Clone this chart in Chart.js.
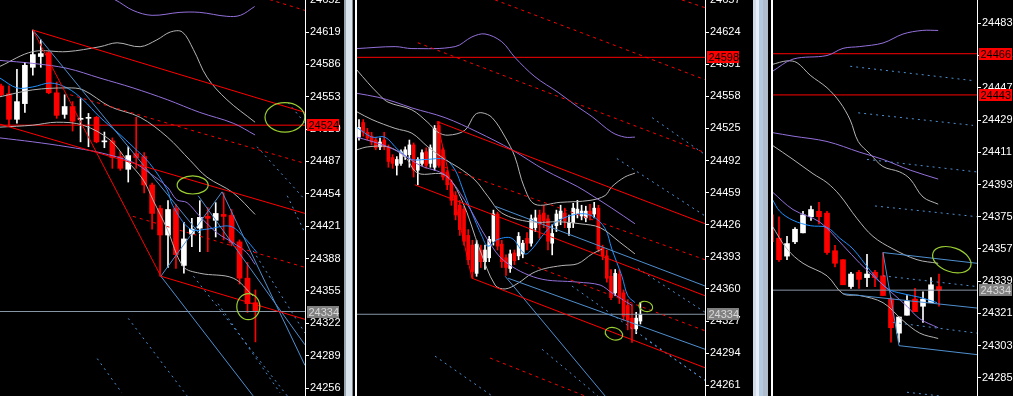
<!DOCTYPE html>
<html><head><meta charset="utf-8">
<script src="https://cdn.jsdelivr.net/npm/chart.js@4.4.1/dist/chart.umd.min.js"></script>
<style>
html,body{margin:0;padding:0;background:#000;}
body{width:1013px;height:396px;position:relative;overflow:hidden;}
.c{position:absolute;top:0;height:396px;}
.s{position:absolute;top:0;height:396px;}
</style></head><body>
<div class="c" style="left:0;width:345px"><canvas id="c1" width="345" height="396"></canvas></div>
<div class="s" style="left:344px;width:2px;background:#9aa4ae"></div>
<div class="s" style="left:346px;width:6px;background:#d9e3ee"></div>
<div class="s" style="left:352px;width:1px;background:#7d8790"></div>
<div class="s" style="left:353px;width:2px;background:#000"></div>
<div class="s" style="left:355px;width:2px;background:#fff"></div>
<div class="c" style="left:357px;width:396px"><canvas id="c2" width="396" height="396"></canvas></div>
<div class="s" style="left:753px;width:3px;background:#cfdbe7"></div>
<div class="s" style="left:756px;width:3px;background:#e8eff6"></div>
<div class="s" style="left:759px;width:4px;background:#b3c9df"></div>
<div class="s" style="left:763px;width:5px;background:#aebccb"></div>
<div class="s" style="left:768px;width:3px;background:#000"></div>
<div class="s" style="left:771px;width:2px;background:#fff"></div>
<div class="c" style="left:773px;width:240px"><canvas id="c3" width="240" height="396"></canvas></div>
<script>
// ---------- Panel 1 ----------
const P1_OPEN =[24564,24556,24530,24546,24583,24594,24598,24557,24535,24543,24530,24531,24532,24507,24508,24492,24479,24495,24492,24463,24439,24412,24439,24381,24413,24419,24431,24427,24433,24432,24405,24368,24343];
const P1_HIGH =[24566,24564,24581,24588,24621,24611,24599,24568,24555,24548,24551,24536,24533,24517,24511,24497,24502,24532,24496,24465,24442,24447,24443,24425,24429,24447,24440,24445,24455,24438,24407,24384,24356];
const P1_LOW  =[24553,24523,24526,24537,24575,24583,24556,24531,24531,24518,24507,24502,24506,24501,24480,24478,24466,24480,24455,24418,24370,24379,24378,24373,24400,24395,24395,24410,24407,24401,24362,24333,24303];
const P1_CLOSE=[24555,24530,24548,24585,24596,24597,24557,24534,24543,24528,24531,24532,24507,24508,24491,24480,24493,24491,24463,24434,24412,24438,24392,24408,24418,24430,24429,24434,24431,24404,24368,24342,24334];
const P1_TICKS=[24652,24619,24586,24553,24520,24487,24454,24421,24388,24355,24322,24289,24256];
const P1_PURPLE_A=[[12.4,24657],[14.3,24652],[16.6,24641],[19.0,24636],[22.5,24639],[25.0,24639],[28.4,24635],[30.1,24636],[31.9,24645]];
const P1_PURPLE_B=[[-0.13,24590],[4.0,24587],[8.3,24582],[12.45,24572],[16.6,24562],[20.9,24550],[25.0,24537],[29.2,24526],[31.95,24514]];
const P1_PURPLE_C=[[-0.13,24511],[4.0,24507],[8.3,24502],[12.45,24496],[16.6,24486],[18.7,24475],[20.9,24461],[22.1,24448],[23.4,24445],[25.0,24431],[27.2,24414],[29.2,24404],[30.9,24394],[31.95,24382]];
const P1_GRAY_A=[[-0.13,24584],[4.0,24599],[8.3,24599],[12.45,24604],[14.6,24608],[17.5,24604],[19.6,24611],[21.3,24619],[22.8,24619],[24.2,24601],[25.9,24573],[28.4,24550],[31.95,24527]];
const P1_GRAY_B=[[-0.13,24553],[4.0,24560],[8.3,24562],[10.3,24560],[13.7,24543],[17.5,24532],[20.9,24512],[23.8,24488],[25.9,24471],[29.2,24455],[31.95,24433]];
const P1_GRAY_C=[[-0.13,24522],[4.0,24524],[7.0,24527],[10.3,24524],[13.7,24509],[15.85,24488],[17.9,24468],[19.1,24448],[20.9,24418],[22.9,24380],[25.0,24373],[29.2,24368],[31.7,24350]];
const P1_MA=[[-0.13,24572],[2.0,24562],[4.0,24563],[6.2,24567],[8.3,24562],[10.3,24550],[12.45,24532],[14.6,24517],[16.6,24502],[18.7,24485],[20.9,24458],[21.6,24442],[23.8,24418],[25.9,24418],[28.8,24421],[30.4,24411],[32.2,24394]];
const P1_RED=[[[4.0,24621],[38.23,24537]],[[4.0,24621],[20.1,24370]],[[-0.13,24525],[38.23,24434]],[[20.1,24370],[38.23,24326]]];
const P1_RED_DASH=[[[8.7,24555],[38.23,24485]],[[16.6,24431],[38.23,24379]],[[33.8,24652],[38.23,24641]]];
const P1_BLUE=[[[4.0,24621],[25.0,24413]],[[20.1,24370],[31.7,24248]],[[20.1,24370],[27.8,24456]],[[27.8,24456],[38.23,24279]],[[24.8,24452],[38.23,24300]]];
const P1_BLUE_DASH=[[[32.2,24502],[38.23,24448]],[[36.1,24547],[38.23,24526]],[[12.1,24286],[15.2,24251]],[[16.0,24327],[23.4,24248]],[[24.2,24370],[36.0,24248]],[[31.7,24396],[38.23,24312]],[[36.0,24452],[38.23,24414]],[[27.3,24342],[35.1,24251]]];
const P1_RED_LEVELS=[24524];
const P1_PRICE=24334;
const P1_ELLIPSES=[[35.7,24532,2.5,15,0],[24.1,24463,1.95,9.2,0],[31.1,24339,1.45,13.3,0]];

// ---------- Panel 2 ----------
const P2_OPEN =[24516,24531,24521,24517,24513,24506,24513,24506,24495,24487,24489,24496,24498,24508,24482,24489,24501,24489,24485,24528,24503,24480,24469,24456,24446,24442,24415,24405,24376,24400,24388,24392,24409,24437,24406,24392,24381,24397,24394,24396,24412,24407,24423,24436,24438,24432,24407,24425,24432,24438,24423,24428,24437,24435,24433,24440,24437,24443,24402,24394,24373,24356,24375,24356,24343,24330,24319,24327];
const P2_HIGH =[24534,24534,24525,24521,24516,24515,24521,24508,24498,24496,24503,24506,24513,24510,24495,24503,24505,24508,24528,24532,24505,24482,24472,24460,24451,24445,24421,24410,24410,24405,24405,24414,24441,24439,24410,24395,24400,24400,24418,24410,24418,24436,24441,24441,24446,24436,24426,24441,24446,24443,24436,24448,24451,24446,24445,24447,24449,24446,24405,24400,24380,24380,24380,24359,24349,24344,24336,24346];
const P2_LOW  =[24513,24517,24513,24508,24503,24503,24503,24485,24484,24477,24487,24493,24485,24475,24467,24487,24484,24485,24482,24485,24472,24462,24446,24431,24415,24405,24385,24371,24373,24382,24380,24388,24405,24400,24382,24374,24377,24385,24390,24392,24400,24404,24419,24412,24423,24400,24395,24419,24426,24423,24415,24423,24433,24431,24429,24431,24433,24398,24390,24367,24349,24353,24345,24328,24318,24305,24314,24324];
const P2_CLOSE=[24526,24521,24515,24511,24505,24511,24506,24491,24489,24493,24501,24503,24508,24482,24493,24500,24487,24505,24525,24487,24475,24467,24451,24436,24421,24409,24390,24378,24406,24388,24400,24411,24437,24404,24388,24382,24396,24389,24414,24407,24407,24432,24433,24426,24430,24409,24417,24437,24440,24430,24428,24443,24442,24440,24440,24435,24443,24401,24394,24371,24351,24376,24351,24332,24328,24319,24330,24334];
const P2_TICKS=[24657,24624,24591,24558,24525,24492,24459,24426,24393,24360,24327,24294,24261];
const P2_PURPLE_A=[[-0.5,24607],[8.6,24609],[12.6,24607],[22.9,24609],[26.9,24619],[30.0,24622],[34.0,24614],[37.1,24598],[41.9,24578],[47.4,24562],[52.1,24547],[55.5,24537],[60.2,24521],[63.3,24516],[65.7,24516]];
const P2_PURPLE_B=[[-0.5,24561],[4.5,24557],[8.6,24552],[12.6,24546],[20.5,24536],[28.3,24521],[36.4,24503],[44.3,24482],[52.1,24465],[55.5,24456],[60.2,24443],[65.7,24427]];
const P2_PURPLE_C=[[-0.5,24516],[5.7,24508],[9.8,24500],[14.5,24487],[20.5,24477],[25.2,24451],[30.7,24410],[34.8,24388],[42.6,24371],[52.1,24367],[57.4,24364],[60.2,24356],[65.0,24343]];
const P2_GRAY_A=[[-0.5,24585],[2.1,24572],[4.5,24561],[6.9,24552],[12.6,24544],[16.4,24531],[18.8,24521],[21.2,24518],[25.2,24523],[27.6,24539],[29.3,24541],[31.7,24536],[34.8,24516],[37.1,24496],[39.3,24465],[41.9,24447],[47.9,24449],[55.0,24451],[58.6,24456],[60.2,24465],[63.3,24475],[65.7,24479]];
const P2_GRAY_B=[[-0.5,24542],[3.1,24534],[8.6,24525],[12.6,24520],[16.4,24506],[20.5,24493],[23.6,24485],[27.6,24472],[30.7,24455],[34.0,24438],[40.7,24429],[47.9,24429],[52.6,24427],[57.4,24423],[62.1,24408],[65.7,24396]];
const P2_GRAY_C=[[-0.5,24503],[2.1,24506],[6.9,24506],[10.9,24496],[14.0,24479],[20.5,24477],[24.5,24451],[28.8,24400],[32.4,24364],[34.8,24360],[37.9,24366],[41.2,24376],[44.3,24381],[48.3,24384],[52.1,24386],[55.5,24396],[57.9,24401]];
const P2_MA=[[-0.5,24526],[3.1,24516],[6.2,24516],[9.3,24503],[12.6,24493],[15.7,24493],[20.5,24493],[22.9,24482],[24.5,24465],[25.7,24451],[26.9,24438],[29.3,24414],[30.7,24404],[33.1,24411],[36.4,24412],[39.5,24396],[41.2,24401],[44.3,24418],[47.4,24430],[52.1,24437],[55.5,24435],[58.6,24422],[60.2,24401],[62.6,24373],[64.0,24353],[65.7,24346]];
const P2_RED=[[[18.6,24532],[82.4,24427]],[[18.6,24532],[26.9,24371]],[[26.9,24371],[82.4,24279]],[[13.3,24467],[82.4,24353]]];
const P2_RED_DASH=[[[32.4,24657],[82.4,24575]],[[76.9,24657],[82.4,24649]],[[14.0,24613],[82.4,24500]],[[20.5,24485],[82.4,24390]],[[39.5,24387],[82.4,24317]],[[31.2,24289],[53.8,24250]]];
const P2_BLUE=[[[32.4,24445],[82.4,24363]],[[35.5,24371],[82.4,24298]],[[34.8,24373],[58.6,24250]]];
const P2_BLUE_DASH=[[[69.8,24536],[82.4,24498]],[[61.4,24494],[82.4,24435]],[[66.4,24381],[82.4,24336]],[[50.7,24363],[82.4,24266]],[[18.1,24291],[31.7,24250]],[[43.6,24298],[56.9,24250]],[[68.1,24309],[82.4,24266]]];
const P2_RED_LEVELS=[24598];
const P2_PRICE=24334;
const P2_ELLIPSES=[[68.3,24342,1.67,5.1,0.3],[60.7,24314,2.14,6.2,0.3]];

// ---------- Panel 3 ----------
const P3_OPEN =[24376,24363,24353,24361,24366,24375,24378,24377,24356,24351,24336,24344,24341,24344,24342,24329,24310,24320,24329,24325,24327,24336];
const P3_HIGH =[24379,24375,24364,24369,24378,24381,24383,24378,24359,24351,24344,24345,24354,24345,24355,24330,24319,24331,24335,24333,24341,24343];
const P3_LOW  =[24360,24350,24351,24360,24366,24373,24371,24354,24347,24337,24335,24335,24336,24336,24331,24305,24305,24320,24322,24316,24327,24325];
const P3_CLOSE=[24361,24351,24360,24368,24376,24379,24375,24355,24349,24337,24343,24340,24343,24341,24331,24313,24319,24328,24322,24329,24337,24334];
const P3_TICKS=[24483,24465,24447,24429,24411,24393,24375,24357,24339,24321,24303,24285];
const P3_PURPLE_A=[[0.125,24456],[2.75,24463],[7.0,24465],[9.0,24469],[11.1,24470],[14.0,24472],[16.5,24477],[18.9,24479],[20.9,24479]];
const P3_GRAY_A=[[0.125,24460],[2.0,24462],[3.25,24461],[4.9,24454],[7.0,24447],[8.6,24439],[9.9,24429],[10.9,24417],[12.4,24410],[14.0,24403],[16.1,24400],[17.4,24396],[19.0,24386],[20.9,24382]];
const P3_PURPLE_B=[[0.125,24422],[2.75,24420],[7.0,24417],[11.1,24411],[14.0,24407],[17.4,24401],[20.9,24396]];
const P3_GRAY_B=[[0.125,24415],[2.75,24407],[5.25,24399],[7.0,24394],[8.6,24387],[10.75,24374],[12.75,24364],[15.25,24357],[18.25,24351],[20.9,24349]];
const P3_MA=[[0.125,24385],[1.1,24378],[2.75,24373],[4.9,24370],[7.0,24369],[8.6,24363],[10.25,24357],[12.4,24345],[14.5,24335],[16.5,24332],[18.6,24330],[20.75,24327]];
const P3_PURPLE_C=[[0.125,24389],[2.75,24379],[6.1,24372],[9.0,24359],[11.1,24349],[13.25,24340],[15.25,24332],[17.0,24325],[18.6,24318],[20.9,24313]];
const P3_GRAY_C=[[0.125,24370],[2.0,24357],[4.0,24349],[7.0,24342],[9.0,24332],[11.1,24331],[14.0,24327],[16.5,24317],[18.6,24310],[20.9,24307]];
const P3_BLUE=[[[14.0,24355],[25.75,24349]],[[14.0,24355],[16.0,24303]],[[16.0,24303],[25.75,24298]],[[9.0,24332],[25.75,24324]]];
const P3_BLUE_DASH=[[[9.9,24459],[25.25,24451]],[[10.9,24433],[25.25,24426]],[[12.0,24407],[25.75,24400]],[[13.0,24381],[25.75,24375]],[[14.0,24342],[25.75,24336]],[[15.25,24316],[25.75,24310]],[[17.0,24277],[21.0,24275]]];
const P3_RED_LEVELS=[24466,24443];
const P3_PRICE=24334;
const P3_ELLIPSES=[[22.6,24351,2.5,6.7,0.35]];

// ---------- drawing ----------
const C_RED='#ff0000', C_UP='#ffffff', C_PURPLE='#9370db', C_GRAY='#b4b4b4', C_MA='#1e90ff',
      C_BLUE='#4f8fcf', C_BLUE_D='#4f8fcf', C_PRICE='#8796a6', C_ELL='#9acd32';

const pts = a => a.map(p => ({x:p[0], y:p[1]}));
function lineDs(a, color, dash, tension){
  return {type:'line', data:pts(a), borderColor:color, borderWidth:1, pointRadius:0,
          fill:false, tension:tension||0, borderDash:dash||[], order:1};
}
function candles(O,H,L,C,w){
  const col = O.map((o,k)=> C[k]>=o ? C_UP : C_RED);
  return [
    {type:'bar', data:O.map((o,k)=>({x:k, y:[L[k],H[k]]})), backgroundColor:col,
     borderWidth:0, barThickness:1, grouped:false, order:30},
    {type:'bar', data:O.map((o,k)=>({x:k, y:[Math.min(o,C[k]), Math.max(o,C[k])]})),
     backgroundColor:col, borderWidth:0, barThickness:w, grouped:false, minBarLength:1, order:29}
  ];
}
const overlay = {
  id:'overlay',
  afterDatasetsDraw(chart, args, o){
    const {ctx, chartArea:a, scales:{x,y}} = chart;
    ctx.save(); ctx.beginPath(); ctx.rect(a.left,a.top,a.width,a.height); ctx.clip();
    (o.ellipses||[]).forEach(e=>{
      const cx=x.getPixelForValue(e[0]), cy=y.getPixelForValue(e[1]);
      const rx=Math.abs(x.getPixelForValue(e[0]+e[2])-cx), ry=Math.abs(y.getPixelForValue(e[1]+e[3])-cy);
      ctx.beginPath(); ctx.ellipse(cx,cy,rx,ry,e[4],0,Math.PI*2);
      ctx.strokeStyle=C_ELL; ctx.lineWidth=1.2; ctx.stroke();
    });
    ctx.restore();
  },
  afterDraw(chart, args, o){
    const {ctx, chartArea:a, scales:{y}} = chart;
    ctx.save();
    ctx.font='11px "Liberation Sans", Arial, sans-serif';
    ctx.textBaseline='middle';
    (o.boxes||[]).forEach(b=>{
      const cy=Math.round(y.getPixelForValue(b.v));
      ctx.fillStyle=b.bg; ctx.fillRect(a.right+2, cy-6, b.w, 12);
      ctx.fillStyle=b.fg; ctx.fillText(String(b.v), a.right+3.5, cy+0.5);
    });
    ctx.restore();
  }
};
function panel(id, cfg){
  const ds = [];
  cfg.red.forEach(s=>ds.push(lineDs(s, C_RED)));
  cfg.redDash.forEach(s=>ds.push(lineDs(s, C_RED, [3,4])));
  cfg.blue.forEach(s=>ds.push(lineDs(s, C_BLUE)));
  cfg.blueDash.forEach(s=>ds.push(lineDs(s, C_BLUE_D, [2,4])));
  cfg.purple.forEach(s=>ds.push(lineDs(s, C_PURPLE, null, 0.35)));
  cfg.gray.forEach(s=>ds.push(lineDs(s, C_GRAY, null, 0.35)));
  ds.push(lineDs(cfg.ma, C_MA, null, 0.35));
  cfg.levels.forEach(v=>ds.push(lineDs([[cfg.xmin,v],[cfg.xmax,v]], C_RED)));
  ds.push(lineDs([[cfg.xmin,cfg.price],[cfg.xmax,cfg.price]], C_PRICE));
  ds.push(...candles(cfg.o,cfg.h,cfg.l,cfg.c,cfg.bw));
  const boxes = cfg.levels.map(v=>({v, bg:C_RED, fg:'#000', w:cfg.boxW}));
  boxes.push({v:cfg.price, bg:'#808080', fg:'#d8d8d8', w:cfg.boxW});
  new Chart(document.getElementById(id), {
    type:'bar',
    data:{datasets:ds},
    options:{
      responsive:false, animation:false, events:[],
      layout:{padding:0},
      plugins:{legend:{display:false}, tooltip:{enabled:false}, overlay:{ellipses:cfg.ell, boxes}},
      scales:{
        x:{type:'linear', min:cfg.xmin, max:cfg.xmax, display:false, offset:false},
        y:{position:'right', min:cfg.ymin, max:cfg.ymax,
           afterBuildTicks:s=>{ s.ticks = cfg.ticks.map(v=>({value:v})); },
           afterFit:s=>{ s.width = cfg.aw; s.paddingTop=0; s.paddingBottom=0; },
           ticks:{color:'#fff', font:{family:'"Liberation Sans", Arial, sans-serif', size:11}, padding:1, autoSkip:false, callback:v=>String(v)},
           grid:{drawOnChartArea:false, drawTicks:true, tickLength:4, color:'#fff'},
           border:{display:true, color:'#fff', width:1}}
      }
    },
    plugins:[overlay]
  });
}
panel('c1', {o:P1_OPEN,h:P1_HIGH,l:P1_LOW,c:P1_CLOSE,bw:5, xmin:-0.13, xmax:38.23, ymin:24247.85, ymax:24651.63, aw:40, boxW:32,
  ticks:P1_TICKS, ma:P1_MA, purple:[P1_PURPLE_A,P1_PURPLE_B,P1_PURPLE_C], gray:[P1_GRAY_A,P1_GRAY_B,P1_GRAY_C],
  red:P1_RED, redDash:P1_RED_DASH, blue:P1_BLUE, blueDash:P1_BLUE_DASH, levels:P1_RED_LEVELS, price:P1_PRICE, ell:P1_ELLIPSES});
panel('c2', {o:P2_OPEN,h:P2_HIGH,l:P2_LOW,c:P2_CLOSE,bw:3, xmin:-0.476, xmax:82.38, ymin:24250.0, ymax:24656.9, aw:48, boxW:32,
  ticks:P2_TICKS, ma:P2_MA, purple:[P2_PURPLE_A,P2_PURPLE_B,P2_PURPLE_C], gray:[P2_GRAY_A,P2_GRAY_B,P2_GRAY_C],
  red:P2_RED, redDash:P2_RED_DASH, blue:P2_BLUE, blueDash:P2_BLUE_DASH, levels:P2_RED_LEVELS, price:P2_PRICE, ell:P2_ELLIPSES});
panel('c3', {o:P3_OPEN,h:P3_HIGH,l:P3_LOW,c:P3_CLOSE,bw:5, xmin:0.25, xmax:25.75, ymin:24274.9, ymax:24496.0, aw:36, boxW:33,
  ticks:P3_TICKS, ma:P3_MA, purple:[P3_PURPLE_A,P3_PURPLE_B,P3_PURPLE_C], gray:[P3_GRAY_A,P3_GRAY_B,P3_GRAY_C],
  red:[], redDash:[], blue:P3_BLUE, blueDash:P3_BLUE_DASH, levels:P3_RED_LEVELS, price:P3_PRICE, ell:P3_ELLIPSES});
</script>
</body></html>
